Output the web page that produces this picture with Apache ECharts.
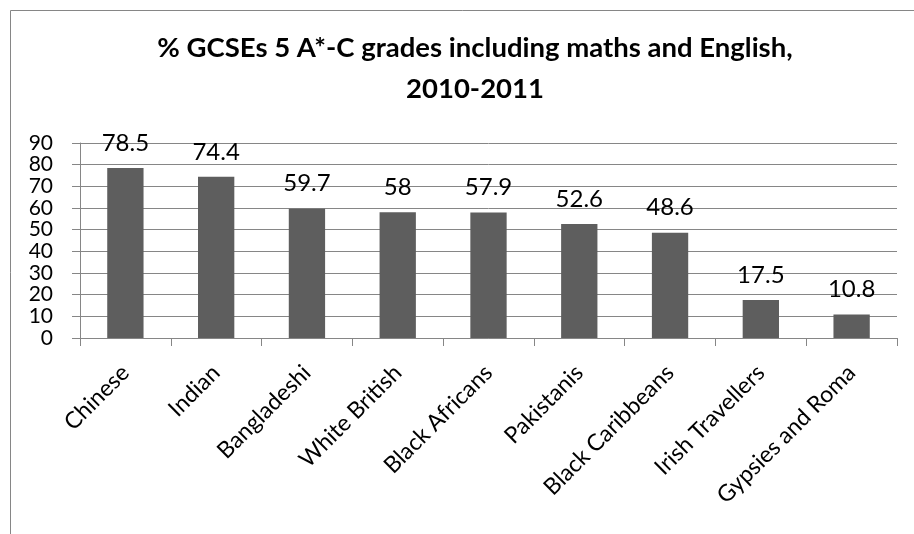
<!DOCTYPE html>
<html>
<head>
<meta charset="utf-8">
<script src="https://cdn.jsdelivr.net/npm/echarts@6/dist/echarts.min.js"></script>
<style>
html,body{margin:0;padding:0;background:#fff;}
#chart{width:914px;height:534px;}
</style>
</head>
<body>
<div id="chart"></div>
<script>
const categories = ["Chinese","Indian","Bangladeshi","White British","Black Africans","Pakistanis","Black Caribbeans","Irish Travellers","Gypsies and Roma"];
const values = [78.5, 74.4, 59.7, 58, 57.9, 52.6, 48.6, 17.5, 10.8];
const yTicks = {min: 0, max: 90, interval: 10};
const titleText = "% GCSEs 5 A*-C grades including maths and English,\n2010-2011";

const chart = echarts.init(document.getElementById('chart'), null, {renderer: 'canvas'});
const font = 'Lato';
chart.setOption({
  animation: false,
  backgroundColor: '#ffffff',
  title: {
    text: titleText,
    left: 470,
    top: 23,
    textAlign: 'center',
    textStyle: {fontFamily: font, fontWeight: 'bold', fontSize: 27.5, lineHeight: 41, color: '#000'}
  },
  graphic: [{
    type: 'rect', silent: true,
    shape: {x: 10.5, y: 10.5, width: 1000, height: 1000},
    style: {fill: 'none', stroke: '#868686', lineWidth: 1}
  }],
  grid: {left: 80, right: 17, top: 143, bottom: 196, containLabel: false},
  xAxis: {
    type: 'category',
    data: categories,
    axisLine: {lineStyle: {color: '#868686', width: 1}},
    axisTick: {show: true, length: 8, alignWithLabel: false, lineStyle: {color: '#868686'}},
    axisLabel: {rotate: 45, interval: 0, margin: 31, fontFamily: font, fontSize: 23, color: '#000'}
  },
  yAxis: {
    type: 'value',
    min: yTicks.min, max: yTicks.max, interval: yTicks.interval,
    axisLine: {show: true, lineStyle: {color: '#868686', width: 1}},
    axisTick: {show: true, length: 8, lineStyle: {color: '#868686'}},
    splitLine: {show: true, lineStyle: {color: '#868686', width: 1}},
    axisLabel: {margin: 27, fontFamily: font, fontSize: 21, color: '#000'}
  },
  series: [{
    type: 'bar',
    data: values,
    barWidth: '40%',
    itemStyle: {color: '#5e5e5e'},
    label: {show: true, position: 'top', distance: 13, fontFamily: font, fontSize: 24, color: '#000'}
  }]
});
</script>
</body>
</html>
